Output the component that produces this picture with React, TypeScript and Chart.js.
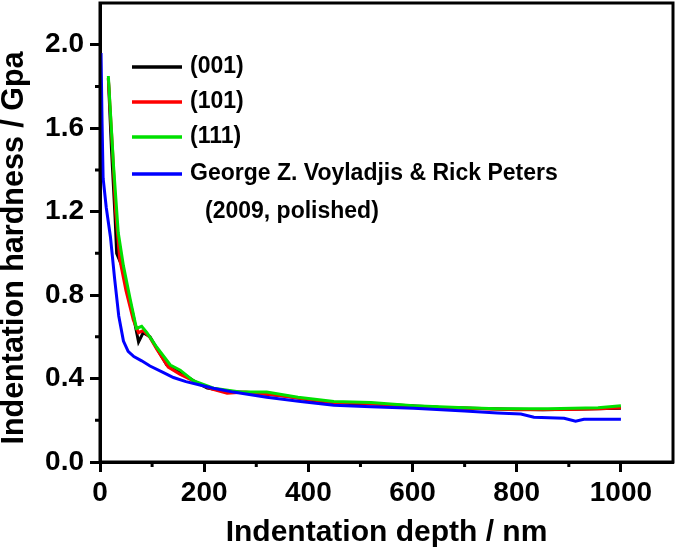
import React, { useEffect, useRef } from "react";
import { Chart, registerables } from "chart.js";

Chart.register(...registerables);

// ---- data (depth in nm, hardness in GPa) ----
const depth001 = [16, 22, 29, 32, 42, 64, 74, 83, 96, 128, 154, 186, 206, 240, 300, 360, 420, 480, 560, 650, 750, 850, 950, 1000];
const hard001 = [1.84, 1.5, 1.17, 1.0, 0.94, 0.7, 0.575, 0.62, 0.6, 0.465, 0.43, 0.38, 0.354, 0.34, 0.33, 0.315, 0.29, 0.28, 0.275, 0.262, 0.255, 0.25, 0.255, 0.258];

const depth101 = [16, 24, 30, 38, 50, 64, 74, 83, 95, 109, 131, 154, 186, 215, 244, 280, 340, 400, 449, 520, 602, 700, 800, 900, 960, 1000];
const hard101 = [1.84, 1.5, 1.2, 0.97, 0.82, 0.68, 0.62, 0.63, 0.6, 0.54, 0.455, 0.42, 0.38, 0.35, 0.33, 0.335, 0.32, 0.3, 0.285, 0.28, 0.265, 0.258, 0.25, 0.252, 0.255, 0.26];

const depth111 = [16, 26, 35, 45, 58, 70, 80, 90, 109, 135, 154, 179, 218, 269, 320, 380, 449, 520, 602, 700, 763, 860, 956, 1000];
const hard111 = [1.85, 1.42, 1.1, 0.94, 0.78, 0.64, 0.65, 0.62, 0.55, 0.465, 0.44, 0.39, 0.354, 0.336, 0.336, 0.31, 0.29, 0.285, 0.27, 0.26, 0.255, 0.255, 0.26, 0.27];

const depthRef = [2, 4, 6, 12, 20, 28, 36, 45, 54, 65, 80, 96, 121, 141, 165, 190, 215, 256, 320, 385, 449, 520, 602, 700, 763, 808, 833, 891, 913, 929, 1000];
const hardRef = [1.96, 1.62, 1.36, 1.22, 1.08, 0.88, 0.7, 0.58, 0.53, 0.505, 0.485, 0.46, 0.43, 0.405, 0.385, 0.37, 0.355, 0.335, 0.31, 0.29, 0.272, 0.265, 0.258, 0.245, 0.235, 0.23, 0.215, 0.21, 0.196, 0.205, 0.205];

const seriesLabels = ["(001)", "(101)", "(111)", "George Z. Voyladjis & Rick Peters"];
const refLabelSecondLine = "(2009, polished)";
const seriesColors = ["#000000", "#ff0000", "#00e000", "#0000ff"];

const xMajorTicks = [0, 200, 400, 600, 800, 1000];
const xMinorTicks = [100, 300, 500, 700, 900];
const yMajorTicks = [0, 0.4, 0.8, 1.2, 1.6, 2.0];
const yMinorTicks = [0.2, 0.6, 1.0, 1.4, 1.8];

const xTitle = "Indentation depth / nm";
const yTitle = "Indentation hardness / Gpa";

const FONT = "'Liberation Sans', Arial, sans-serif";

const toPoints = (xs: number[], ys: number[]) => xs.map((x, i) => ({ x, y: ys[i] }));

const framePlugin = {
  id: "frameAndLegend",
  afterDraw(chart: any) {
    const { ctx, chartArea, scales } = chart;
    const { left, right, top, bottom } = chartArea;
    const xs = scales.x;
    const ys = scales.y;
    ctx.save();
    ctx.strokeStyle = "#000";
    ctx.lineWidth = 3;
    ctx.strokeRect(left, top, right - left, bottom - top);
    ctx.beginPath();
    for (const v of xMinorTicks) {
      const px = xs.getPixelForValue(v);
      ctx.moveTo(px, bottom);
      ctx.lineTo(px, bottom + 5);
    }
    for (const v of yMinorTicks) {
      const py = ys.getPixelForValue(v);
      ctx.moveTo(left, py);
      ctx.lineTo(left - 5, py);
    }
    ctx.stroke();

    // y-axis title
    ctx.save();
    ctx.translate(15, 248);
    ctx.rotate(-Math.PI / 2);
    ctx.font = `bold 30.5px ${FONT}`;
    ctx.textAlign = "center";
    ctx.textBaseline = "middle";
    ctx.fillStyle = "#000";
    ctx.fillText(yTitle, 0, 0);
    ctx.restore();

    // legend inside plot
    const lx0 = left + 32;
    const lx1 = left + 82;
    const tx = left + 90;
    const rowY = [top + 64, top + 99, top + 134, top + 171];
    ctx.font = `bold 23px ${FONT}`;
    ctx.textBaseline = "middle";
    ctx.textAlign = "left";
    ctx.lineWidth = 3.5;
    seriesLabels.forEach((lab, i) => {
      ctx.strokeStyle = seriesColors[i];
      ctx.beginPath();
      ctx.moveTo(lx0, rowY[i]);
      ctx.lineTo(lx1, rowY[i]);
      ctx.stroke();
      ctx.fillStyle = "#000";
      ctx.fillText(lab, tx, rowY[i]);
    });
    ctx.fillText(refLabelSecondLine, tx + 15, rowY[3] + 38);
    ctx.restore();
  },
};

export default function App() {
  const ref = useRef<HTMLCanvasElement | null>(null);
  useEffect(() => {
    if (!ref.current) return;
    const sets = [
      [depth001, hard001],
      [depth101, hard101],
      [depth111, hard111],
      [depthRef, hardRef],
    ];
    const orders = [3, 2, 1, 0];
    const chart = new Chart(ref.current, {
      type: "line",
      data: {
        datasets: sets.map(([xs, ys], i) => ({
          label: seriesLabels[i],
          data: toPoints(xs, ys),
          borderColor: seriesColors[i],
          backgroundColor: seriesColors[i],
          borderWidth: 3,
          pointRadius: 0,
          tension: 0,
          fill: false,
          order: orders[i],
        })),
      },
      options: {
        animation: false,
        responsive: false,
        maintainAspectRatio: false,
        layout: { padding: { top: 3, right: 2, left: 0, bottom: 0 } },
        plugins: {
          legend: { display: false },
          tooltip: { enabled: false },
        },
        scales: {
          x: {
            type: "linear",
            min: 0,
            max: 1100,
            afterBuildTicks: (s: any) => {
              s.ticks = xMajorTicks.map((v) => ({ value: v }));
            },
            afterFit: (s: any) => {
              s.height = 91;
              s.paddingLeft = 0;
              s.paddingRight = 0;
            },
            ticks: {
              color: "#000",
              font: { family: FONT, size: 28, weight: "bold" },
              padding: 4,
              maxRotation: 0,
              callback: (v: any) => String(v),
            },
            grid: {
              display: true,
              drawOnChartArea: false,
              drawTicks: true,
              tickLength: 10,
              tickWidth: 3,
              tickColor: "#000",
            },
            border: { display: true, color: "#000", width: 3 },
            title: {
              display: true,
              text: xTitle,
              color: "#000",
              font: { family: FONT, size: 30, weight: "bold" },
              padding: { top: 0, bottom: 2 },
            },
          },
          y: {
            type: "linear",
            min: 0,
            max: 2.2,
            afterBuildTicks: (s: any) => {
              s.ticks = yMajorTicks.map((v) => ({ value: v }));
            },
            afterFit: (s: any) => {
              s.width = 100;
              s.paddingTop = 0;
              s.paddingBottom = 0;
            },
            ticks: {
              color: "#000",
              font: { family: FONT, size: 28, weight: "bold" },
              padding: 6,
              callback: (v: any) => Number(v).toFixed(1),
            },
            grid: {
              display: true,
              drawOnChartArea: false,
              drawTicks: true,
              tickLength: 10,
              tickWidth: 3,
              tickColor: "#000",
            },
            border: { display: true, color: "#000", width: 3 },
            title: { display: false },
          },
        },
      },
      plugins: [framePlugin],
    });
    return () => chart.destroy();
  }, []);
  return (
    <div style={{ position: "fixed", left: 0, top: 0, width: 675, height: 553, background: "#fff" }}>
      <canvas ref={ref} width={675} height={553} style={{ width: 675, height: 553, display: "block" }} />
    </div>
  );
}
